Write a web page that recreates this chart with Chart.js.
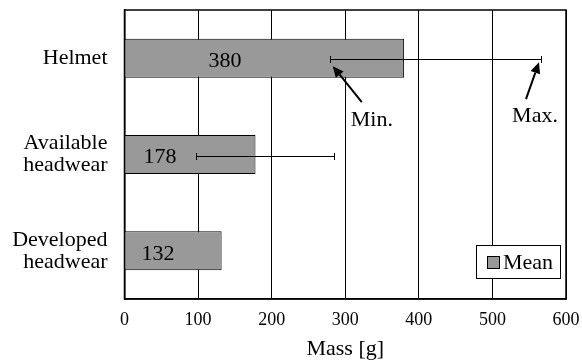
<!DOCTYPE html>
<html>
<head>
<meta charset="utf-8">
<script src="https://cdn.jsdelivr.net/npm/chart.js@4/dist/chart.umd.min.js"></script>
<style>
html,body{margin:0;padding:0;background:#fff;}
#wrap{width:582px;height:363px;position:relative;}
</style>
</head>
<body>
<div id="wrap"><canvas id="c" width="582" height="363"></canvas></div>
<script>
const categories = ['Helmet', ['Available', 'headwear'], ['Developed', 'headwear']];
const meanValues = [380, 178, 132];
const minValues = [279, 97, null];
const maxValues = [566, 285, null];
const xTicks = [0, 100, 200, 300, 400, 500, 600];
const seriesName = 'Mean';
const axisTitle = 'Mass [g]';

const FONT = "'Liberation Serif', 'Times New Roman', serif";

const extras = {
  id: 'extras',
  afterDatasetsDraw(chart) {
    const ctx = chart.ctx;
    const xs = chart.scales.x, ys = chart.scales.y;
    const ca = chart.chartArea;
    const meta = chart.getDatasetMeta(0);
    ctx.save();
    // data labels
    const offs = [100.5, 35.5, 33.5];
    ctx.fillStyle = '#000';
    ctx.font = '22px ' + FONT;
    ctx.textAlign = 'center';
    ctx.textBaseline = 'middle';
    meta.data.forEach((bar, i) => {
      ctx.fillText(String(meanValues[i]), ca.left + offs[i], bar.y + 3);
    });
    // error bars
    ctx.strokeStyle = '#000';
    ctx.lineWidth = 1;
    meta.data.forEach((bar, i) => {
      if (minValues[i] == null) return;
      const x1 = Math.round(xs.getPixelForValue(minValues[i])) + 0.5;
      const x2 = Math.round(xs.getPixelForValue(maxValues[i])) + 0.5;
      const y = Math.round(bar.y) + 0.5 + 1;
      ctx.beginPath();
      ctx.moveTo(x1, y); ctx.lineTo(x2, y);
      ctx.moveTo(x1, y - 3.5); ctx.lineTo(x1, y + 3.5);
      ctx.moveTo(x2, y - 3.5); ctx.lineTo(x2, y + 3.5);
      ctx.stroke();
    });
    // annotations
    const b0 = meta.data[0];
    function arrow(tx, ty, hx, hy) {
      const ang = Math.atan2(hy - ty, hx - tx);
      const L = 11, W = 5;
      const bx = hx - L * Math.cos(ang), by = hy - L * Math.sin(ang);
      ctx.lineWidth = 2;
      ctx.beginPath();
      ctx.moveTo(tx, ty); ctx.lineTo(bx, by);
      ctx.stroke();
      ctx.beginPath();
      ctx.moveTo(hx, hy);
      ctx.lineTo(bx + W * Math.sin(ang), by - W * Math.cos(ang));
      ctx.lineTo(bx - W * Math.sin(ang), by + W * Math.cos(ang));
      ctx.closePath();
      ctx.fill();
    }
    const mx = xs.getPixelForValue(minValues[0]);
    arrow(mx + 32, b0.y + 44, mx + 3, b0.y + 8);
    const Mx = xs.getPixelForValue(maxValues[0]);
    arrow(Mx - 15, b0.y + 41, Mx - 2, b0.y + 4);
    ctx.font = '22px ' + FONT;
    ctx.textAlign = 'center';
    ctx.fillText('Min.', mx + 42, b0.y + 62);
    ctx.fillText('Max.', Mx - 6, b0.y + 58);
    // frame
    ctx.lineWidth = 1.5;
    ctx.strokeRect(ca.left, ca.top, ca.right - ca.left, ca.bottom - ca.top);
    // legend
    const lx = 476.5, ly = 245.5, lw = 84, lh = 33;
    ctx.fillStyle = '#fff';
    ctx.fillRect(lx, ly, lw, lh);
    ctx.lineWidth = 1;
    ctx.strokeStyle = '#000';
    ctx.strokeRect(lx, ly, lw, lh);
    ctx.fillStyle = '#999999';
    ctx.fillRect(487.5, 256.5, 12, 12);
    ctx.strokeRect(487.5, 256.5, 12, 12);
    ctx.fillStyle = '#000';
    ctx.textAlign = 'left';
    ctx.textBaseline = 'middle';
    ctx.font = '22px ' + FONT;
    ctx.fillText(seriesName, 503, 263);
    ctx.restore();
  }
};

new Chart(document.getElementById('c'), {
  type: 'bar',
  data: {
    labels: categories,
    datasets: [{
      label: seriesName,
      data: meanValues,
      backgroundColor: '#999999',
      borderColor: '#000000',
      borderWidth: 1,
      barPercentage: 0.405,
      categoryPercentage: 1.0
    }]
  },
  options: {
    indexAxis: 'y',
    responsive: false,
    animation: false,
    devicePixelRatio: 1,
    layout: { padding: { top: 10, right: 16, left: 0, bottom: 0 } },
    plugins: { legend: { display: false }, tooltip: { enabled: false } },
    scales: {
      x: {
        min: 0, max: 600,
        afterBuildTicks: (s) => { s.ticks = xTicks.map(v => ({ value: v })); },
        afterFit: (s) => { s.height = 64; s.paddingLeft = 0; s.paddingRight = 0; },
        ticks: { color: '#000', font: { family: FONT, size: 18 }, padding: 10 },
        grid: { color: '#000', lineWidth: 1, drawTicks: false },
        border: { display: true, color: '#000', width: 1.5 },
        title: { display: true, text: axisTitle, color: '#000', font: { family: FONT, size: 22 }, padding: { top: 0, bottom: 1 } }
      },
      y: {
        afterFit: (s) => { s.width = 124.5; s.paddingTop = 0; s.paddingBottom = 0; },
        ticks: { color: '#000', font: { family: FONT, size: 22, lineHeight: 1.0 }, padding: 17 },
        grid: { display: false, drawTicks: false },
        border: { display: true, color: '#000', width: 1.5 }
      }
    }
  },
  plugins: [extras]
});
</script>
</body>
</html>
